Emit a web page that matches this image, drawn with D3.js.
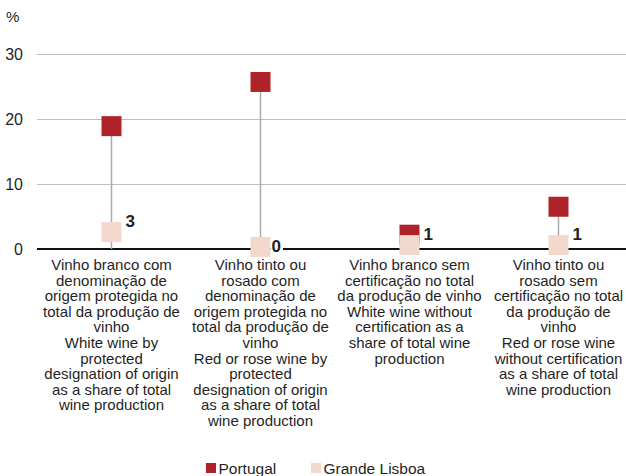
<!DOCTYPE html>
<html>
<head>
<meta charset="utf-8">
<script src="https://cdn.jsdelivr.net/npm/d3@7"></script>
<style>
  html, body { margin: 0; padding: 0; background: #fff; }
  svg { display: block; font-family: "Liberation Sans", Arial, sans-serif; }
</style>
</head>
<body>
<svg id="chart" width="626" height="476"></svg>
<script>
// Wine production shares (%), Portugal vs Grande Lisboa
const categories = [
  ["Vinho branco com", "denominação de", "origem protegida no", "total da produção de", "vinho",
   "White wine by", "protected", "designation of origin", "as a share of total", "wine production"],
  ["Vinho tinto ou", "rosado com", "denominação de", "origem protegida no", "total da produção de", "vinho",
   "Red or rose wine by", "protected", "designation of origin", "as a share of total", "wine production"],
  ["Vinho branco sem", "certificação no total", "da produção de vinho",
   "White wine without", "certification as a", "share of total wine", "production"],
  ["Vinho tinto ou", "rosado sem", "certificação no total", "da produção de", "vinho",
   "Red or rose wine", "without certification", "as a share of total", "wine production"]
];
const portugal = [18.9, 25.7, 2.2, 6.5];
const grandeLisboa = [2.6, 0.3, 0.6, 0.6];
const yTicks = [0, 10, 20, 30];
const seriesNames = ["Portugal", "Grande Lisboa"];
const seriesColors = ["#AE2329", "#F3D8CD"];

const svg = d3.select("#chart");
const textColor = "#1f1f1f";

const x = d3.scaleBand().domain(d3.range(categories.length)).range([37, 633]);
const y = d3.scaleLinear().domain([0, 30]).range([249, 54]);

// Gridlines + y tick labels
const yAxis = svg.append("g")
  .attr("transform", "translate(37,0)")
  .call(d3.axisLeft(y).tickValues(yTicks).tickSize(-600).tickPadding(14));
yAxis.select(".domain").remove();
yAxis.selectAll(".tick line").attr("stroke", "#bdbdbd").attr("stroke-width", 1.2);
yAxis.selectAll(".tick text")
  .attr("fill", textColor).attr("font-size", 16)
  .attr("font-family", "Liberation Sans, Arial, sans-serif");

// Unit label
svg.append("text").attr("x", 6).attr("y", 22)
  .attr("font-size", 15).attr("fill", textColor).text("%");

// Baseline
svg.append("line")
  .attr("x1", 37).attr("x2", 626)
  .attr("y1", y(0)).attr("y2", y(0))
  .attr("stroke", "#111").attr("stroke-width", 2);

const cx = i => x(i) + x.bandwidth() / 2;
const size = 20;

// Drop lines from the higher value to zero
svg.append("g").selectAll("line")
  .data(d3.range(categories.length))
  .join("line")
  .attr("x1", cx).attr("x2", cx)
  .attr("y1", i => y(Math.max(portugal[i], grandeLisboa[i])))
  .attr("y2", y(0))
  .attr("stroke", "#ababab").attr("stroke-width", 1.5);

// Markers
[portugal, grandeLisboa].forEach((vals, s) => {
  svg.append("g").selectAll("rect")
    .data(vals)
    .join("rect")
    .attr("x", (d, i) => cx(i) - size / 2)
    .attr("y", d => y(d) - size / 2)
    .attr("width", size).attr("height", size)
    .attr("fill", seriesColors[s]);
});

// Value labels for Grande Lisboa
const labels = svg.append("g");
grandeLisboa.forEach((v, i) => {
  const txt = String(Math.round(v));
  const zero = Math.round(v) === 0;
  const lx = cx(i) + size / 2 + (zero ? 1 : 4);
  // labels for zero sit level with the marker, others above-right
  const ly = zero ? y(v) + 5 : y(v) - 5;
  const t = labels.append("text")
    .attr("x", lx).attr("y", ly)
    .attr("font-size", 17).attr("font-weight", "bold")
    .attr("fill", textColor).text(txt);
  const bb = t.node().getBBox();
  // white backing behind the glyphs only (cap height), so the baseline breaks around it
  labels.insert("rect", () => t.node())
    .attr("x", bb.x - 1).attr("y", ly - 13)
    .attr("width", bb.width + 3).attr("height", 14)
    .attr("fill", "#fff");
});

// Category labels
const catG = svg.append("g");
categories.forEach((lines, i) => {
  const t = catG.append("text")
    .attr("x", cx(i)).attr("y", 270)
    .attr("text-anchor", "middle")
    .attr("font-size", 15).attr("fill", textColor);
  t.selectAll("tspan").data(lines).join("tspan")
    .attr("x", cx(i))
    .attr("dy", (d, k) => k === 0 ? 0 : 15.6)
    .text(d => d);
});

// Legend
const legendX = [206, 311];
seriesNames.forEach((name, s) => {
  svg.append("rect")
    .attr("x", legendX[s]).attr("y", 463)
    .attr("width", 10).attr("height", 10)
    .attr("fill", seriesColors[s]);
  svg.append("text")
    .attr("x", legendX[s] + 12.5).attr("y", 474)
    .attr("font-size", 15.5).attr("fill", textColor)
    .text(name);
});
</script>
</body>
</html>
